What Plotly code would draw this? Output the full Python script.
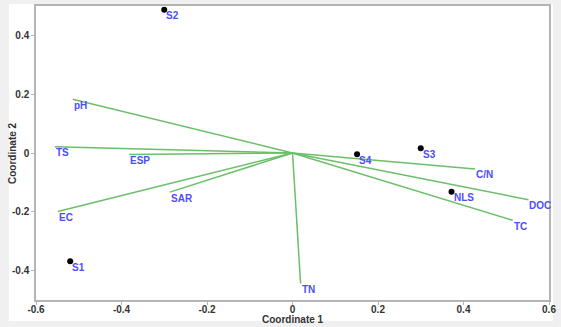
import plotly.graph_objects as go

# Site scores
site_names = ["S1", "S2", "S3", "S4", "NLS"]
site_x = [-0.520, -0.300, 0.300, 0.151, 0.372]
site_y = [-0.368, 0.487, 0.016, -0.004, -0.132]

# Variable vectors (endpoints, from origin)
var_names = ["pH", "TS", "ESP", "SAR", "EC", "TN", "C/N", "DOC", "TC"]
var_x = [-0.514, -0.556, -0.382, -0.287, -0.549, 0.019, 0.427, 0.552, 0.515]
var_y = [0.183, 0.021, -0.005, -0.133, -0.199, -0.444, -0.054, -0.159, -0.229]

x_ticks = [-0.6, -0.4, -0.2, 0, 0.2, 0.4, 0.6]
y_ticks = [-0.4, -0.2, 0, 0.2, 0.4]

GREEN = "#6cbf6a"
BLUE = "#4d4dff"
FONT = "Liberation Sans"
LABEL_FONT = dict(family=FONT, size=10, color=BLUE, weight="bold")
AXIS_FONT = dict(family=FONT, size=10, color="#333333", weight="bold")

fig = go.Figure()

for name, vx, vy in zip(var_names, var_x, var_y):
    fig.add_trace(go.Scatter(x=[0, vx], y=[0, vy], mode="lines",
                             line=dict(color=GREEN, width=1.5),
                             hoverinfo="skip", showlegend=False))

fig.add_trace(go.Scatter(x=site_x, y=site_y, mode="markers",
                         marker=dict(color="black", size=6),
                         hovertext=site_names, showlegend=False))

for name, vx, vy in zip(var_names, var_x, var_y):
    fig.add_annotation(x=vx, y=vy, text=name, showarrow=False,
                       xanchor="left", yanchor="middle", xshift=-1, yshift=-6,
                       font=LABEL_FONT)
for name, sx, sy in zip(site_names, site_x, site_y):
    fig.add_annotation(x=sx, y=sy, text=name, showarrow=False,
                       xanchor="left", yanchor="middle", xshift=0, yshift=-6,
                       font=LABEL_FONT)

# Axis titles
fig.add_annotation(xref="paper", yref="paper", x=0.5, y=-19.5 / 294,
                   text="Coordinate 1", showarrow=False,
                   xanchor="center", yanchor="middle", font=AXIS_FONT)
fig.add_annotation(xref="paper", yref="paper", x=-24 / 513, y=0.5,
                   text="Coordinate 2", showarrow=False, textangle=-90,
                   xanchor="center", yanchor="middle", font=AXIS_FONT)

axis_common = dict(showgrid=False, zeroline=False, showline=True, mirror=True,
                   linecolor="#b4b4b4", linewidth=1.5, ticks="outside",
                   ticklen=3, tickcolor="#b4b4b4", automargin=False,
                   tickfont=AXIS_FONT)

fig.update_xaxes(range=[-0.6, 0.6], tickvals=x_ticks,
                 ticktext=[f"{v:g}" for v in x_ticks],
                 ticklabelstandoff=-4, **axis_common)
fig.update_yaxes(range=[-0.5, 0.5], tickvals=y_ticks,
                 ticktext=[f"{v:g}" for v in y_ticks],
                 **axis_common)

fig.add_shape(type="rect", xref="paper", yref="paper",
              x0=-27 / 513, x1=1 + 4 / 513, y0=-21 / 294, y1=1 + 2 / 294,
              fillcolor="white", line=dict(width=0), layer="below")

fig.update_layout(width=561, height=327,
                  margin=dict(l=36, r=12, t=6, b=27, autoexpand=False),
                  paper_bgcolor="#f0f0f0", plot_bgcolor="white",
                  font=dict(family=FONT))

fig.write_html("out.html", config={"displayModeBar": False},
               post_script="document.body.style.margin='0';document.body.style.overflow='hidden';")
